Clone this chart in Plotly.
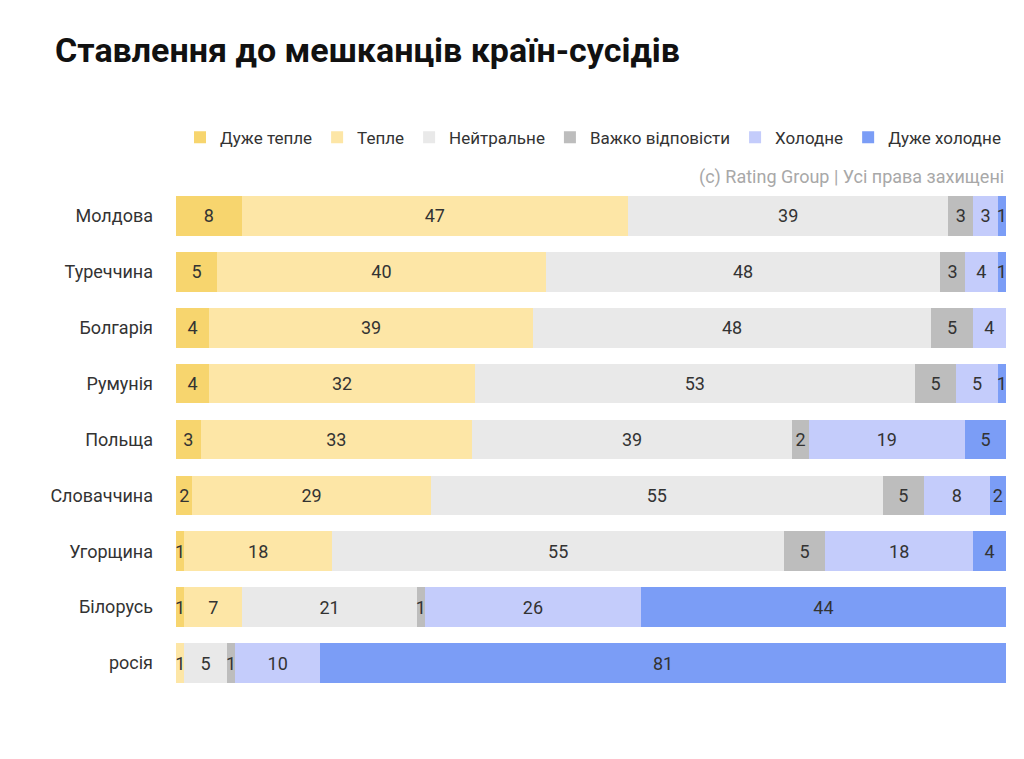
import plotly.graph_objects as go

# Countries, top to bottom
countries = ["Молдова", "Туреччина", "Болгарія", "Румунія", "Польща",
             "Словаччина", "Угорщина", "Білорусь", "росія"]

# Answer categories (legend order)
categories = ["Дуже тепле", "Тепле", "Нейтральне", "Важко відповісти",
              "Холодне", "Дуже холодне"]

very_warm = [8, 5, 4, 4, 3, 2, 1, 1, 0]
warm = [47, 40, 39, 32, 33, 29, 18, 7, 1]
neutral = [39, 48, 48, 53, 39, 55, 55, 21, 5]
hard_to_say = [3, 3, 5, 5, 2, 5, 5, 1, 1]
cold = [3, 4, 4, 5, 19, 8, 18, 26, 10]
very_cold = [1, 1, 0, 1, 5, 2, 4, 44, 81]

series = [very_warm, warm, neutral, hard_to_say, cold, very_cold]
colors = ["#F7D56E", "#FDE6A6", "#E9E9E9", "#BDBDBD", "#C4CCFB", "#7B9DF6"]

fig = go.Figure()
for name, vals, col in zip(categories, series, colors):
    fig.add_trace(go.Bar(
        y=countries,
        x=vals,
        name=name,
        orientation="h",
        marker=dict(color=col, line=dict(width=0)),
        text=[str(v) if v > 0 else "" for v in vals],
        textposition="inside",
        insidetextanchor="middle",
        textfont=dict(size=18, color="#333333", family="Roboto"),
        constraintext="none",
        hoverinfo="name+x",
    ))

fig.update_layout(
    width=1024,
    height=759,
    barmode="stack",
    barnorm="percent",
    bargap=0.29,
    plot_bgcolor="white",
    paper_bgcolor="white",
    font=dict(family="Roboto", size=18, color="#333333"),
    margin=dict(l=168, r=26, t=180, b=76),
    uniformtext=dict(minsize=18, mode="show"),
    title=dict(
        text="<b>Ставлення до мешканців країн-сусідів</b>",
        x=0.046, xanchor="left", y=0.945, yanchor="middle",
        font=dict(size=34, color="#111111", family="Roboto"),
    ),
    legend=dict(
        orientation="h",
        x=1.0, xanchor="right",
        y=1.1, yanchor="middle",
        font=dict(size=17, color="#333333"),
        itemwidth=30,
        traceorder="normal",
    ),
    annotations=[dict(
        text="(c) Rating Group | Усі права захищені",
        x=1.0, xref="paper", xanchor="right",
        y=1.0, yref="paper", yanchor="bottom", yshift=-2,
        showarrow=False,
        font=dict(size=18, color="#A8A8A8"),
    )],
)

fig.update_xaxes(visible=False, range=[0, 100], fixedrange=True)
fig.update_yaxes(autorange="reversed", showgrid=False, showline=False,
                 ticks="", ticklabelstandoff=22,
                 tickfont=dict(size=18, color="#333333"))

fig.write_html("out.html")
